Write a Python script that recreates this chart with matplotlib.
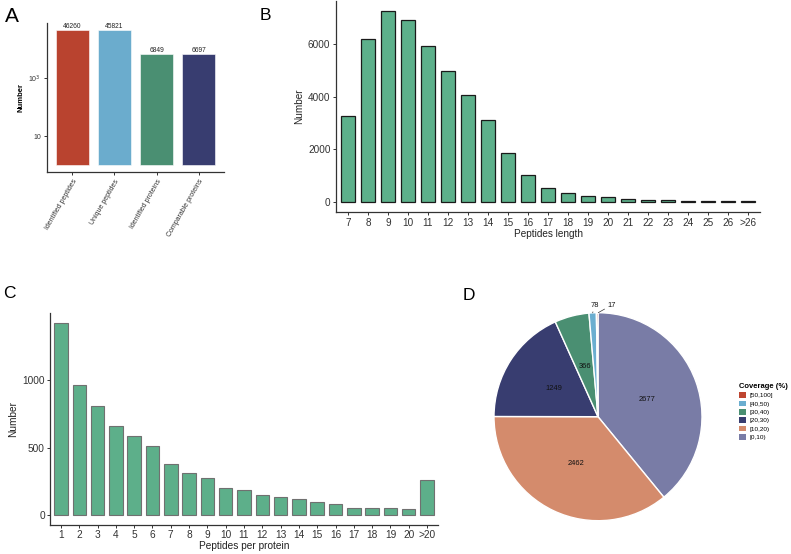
import numpy as np
import matplotlib
matplotlib.use("Agg")
import matplotlib.pyplot as plt
from matplotlib.patches import Patch

plt.rcParams['font.family'] = ['Liberation Sans', 'DejaVu Sans']

# ---- Data ----
a_cats = ["Identified peptides", "Unique peptides", "Identified proteins", "Comparable proteins"]
a_vals = [46260, 45821, 6849, 6697]
a_colors = ["#B9432F", "#6BACCD", "#4A8F72", "#383D70"]

b_cats = ["7", "8", "9", "10", "11", "12", "13", "14", "15", "16", "17", "18", "19",
          "20", "21", "22", "23", "24", "25", "26", ">26"]
b_vals = [3260, 6170, 7230, 6890, 5930, 4950, 4040, 3125, 1870, 1030, 530, 330, 245,
          195, 125, 90, 75, 50, 40, 25, 60]

c_cats = [str(i) for i in range(1, 21)] + [">20"]
c_vals = [1421, 965, 811, 659, 590, 512, 380, 314, 277, 203, 189, 152, 137, 120,
          100, 86, 56, 56, 56, 44, 265]

d_labels = ["[0,10)", "[10,20)", "[20,30)", "[30,40)", "[40,50)", "[50,100]"]
d_vals = [2677, 2462, 1249, 366, 78, 17]
d_colors = ["#797CA6", "#D48B6C", "#383D70", "#4A8F72", "#6BAED0", "#BE4531"]

W, H = 791, 554
fig = plt.figure(figsize=(W / 100, H / 100), dpi=100)

def fr(l, t, r, b):
    return [l / W, 1 - b / H, (r - l) / W, (b - t) / H]

spine_col = "#333333"

def style(ax, fs, pad=2.0):
    for s in ["top", "right"]:
        ax.spines[s].set_visible(False)
    for s in ["left", "bottom"]:
        ax.spines[s].set_color(spine_col)
        ax.spines[s].set_linewidth(0.9)
    ax.tick_params(colors=spine_col, labelcolor="#333333", labelsize=fs, length=2.5,
                   width=0.7, pad=pad)

# ---- Panel A ----
axA = fig.add_axes(fr(47, 23, 224, 172))
xa = np.arange(len(a_cats))
axA.bar(xa, np.array(a_vals) - 1, bottom=1, width=0.78, color=a_colors, edgecolor="white", linewidth=0.4)
axA.set_yscale("log")
axA.set_ylim(10 ** -0.24, 10 ** 4.9)
axA.set_xlim(-0.6, len(a_cats) - 0.4)
axA.set_yticks([10, 1000])
axA.set_yticklabels(["10", "10$^3$"])
axA.minorticks_off()
axA.set_xticks(xa)
axA.set_xticklabels(a_cats, rotation=60, ha="right", rotation_mode="anchor", fontsize=5.0)
style(axA, 5.0)
axA.set_ylabel("Number", fontsize=5.5, fontweight="bold", labelpad=3)
for x, v in zip(xa, a_vals):
    axA.text(x, v, str(v), ha="center", va="bottom", fontsize=4.8, color="#222222")
fig.text(5 / W, 1 - 16 / H, "A", fontsize=15, va="center", ha="left")

# ---- Panel B ----
axB = fig.add_axes(fr(336, 1, 760, 212))
xb = np.arange(len(b_cats))
axB.bar(xb, b_vals, width=0.72, color="#5DB08B", edgecolor="#1a1a1a", linewidth=0.9)
axB.set_xlim(-0.6, len(b_cats) - 0.4)
axB.set_ylim(-375, 7620)
axB.set_yticks([0, 2000, 4000, 6000])
axB.set_xticks(xb)
axB.set_xticklabels(b_cats)
style(axB, 7.2, pad=1.5)
axB.set_ylabel("Number", fontsize=7.2, color="#222222", labelpad=3)
axB.set_xlabel("Peptides length", fontsize=7.2, color="#222222", labelpad=1)
fig.text(260 / W, 1 - 16 / H, "B", fontsize=12.5, va="center", ha="left")

# ---- Panel C ----
axC = fig.add_axes(fr(50, 313, 438, 525))
xc = np.arange(len(c_cats))
axC.bar(xc, c_vals, width=0.74, color="#5DAF8A", edgecolor="#707070", linewidth=0.8)
axC.set_xlim(-0.6, len(c_cats) - 0.4)
axC.set_ylim(-71, 1495)
axC.set_yticks([0, 500, 1000])
axC.set_xticks(xc)
axC.set_xticklabels(c_cats)
style(axC, 7.3, pad=1.2)
axC.set_ylabel("Number", fontsize=7.3, color="#222222", labelpad=3)
axC.set_xlabel("Peptides per protein", fontsize=7.3, color="#222222", labelpad=0.5)
fig.text(3 / W, 1 - 294 / H, "C", fontsize=12.5, va="center", ha="left")

# ---- Panel D ----
cx, cy, R = 598, 416.7, 104
ext = 1.25
axD = fig.add_axes(fr(cx - ext * R, cy - ext * R, cx + ext * R, cy + ext * R))
wedges, _ = axD.pie(d_vals, colors=d_colors, startangle=90, counterclock=False, radius=1,
                    wedgeprops=dict(edgecolor="white", linewidth=1.0))
axD.set_xlim(-ext, ext)
axD.set_ylim(-ext, ext)
axD.set_aspect("equal")
axD.axis("off")
for w, v in zip(wedges, d_vals):
    ang = np.deg2rad((w.theta1 + w.theta2) / 2)
    if v > 200:
        axD.text(0.5 * np.cos(ang), 0.5 * np.sin(ang), str(v), ha="center", va="center",
                 fontsize=5.4, color="#111111")
# small slices with leader lines
w78, w17 = wedges[4], wedges[5]
a78 = np.deg2rad((w78.theta1 + w78.theta2) / 2)
a17 = np.deg2rad((w17.theta1 + w17.theta2) / 2)
axD.annotate(str(d_vals[4]), xy=(np.cos(a78), np.sin(a78)), xytext=(-0.03, 1.035),
             ha="center", va="bottom", fontsize=5.4, color="#111111",
             arrowprops=dict(arrowstyle="-", color="#333333", lw=0.5, shrinkA=0, shrinkB=0))
axD.annotate(str(d_vals[5]), xy=(np.cos(a17) + 0.01, np.sin(a17)), xytext=(0.09, 1.04),
             ha="left", va="bottom", fontsize=5.4, color="#111111",
             arrowprops=dict(arrowstyle="-", color="#333333", lw=0.5, shrinkA=0, shrinkB=0))
fig.text(463 / W, 1 - 296 / H, "D", fontsize=12.5, va="center", ha="left")

handles = [Patch(facecolor=c, edgecolor="none") for c in d_colors[::-1]]
leg = fig.legend(handles, d_labels[::-1], title="Coverage (%)", loc="upper left",
                 bbox_to_anchor=(736 / W, 1 - 380 / H), frameon=False, fontsize=4.6,
                 title_fontproperties=dict(size=5.5, weight="bold"),
                 handlelength=1.0, handleheight=1.0, labelspacing=0.35, handletextpad=0.6,
                 borderpad=0, alignment="left")

fig.savefig("out.png", dpi=100)
